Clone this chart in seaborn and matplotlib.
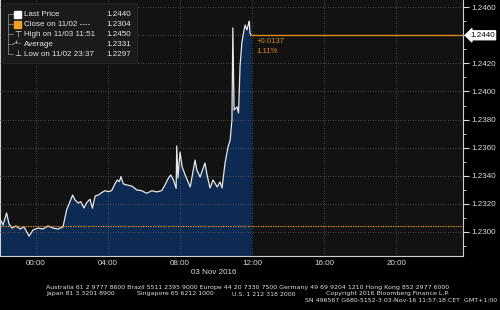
import matplotlib
matplotlib.use("Agg")
import numpy as np
import pandas as pd
import seaborn as sns
import matplotlib.pyplot as plt
import matplotlib.dates as mdates
from matplotlib.patches import Rectangle

# ---------------- data ----------------
times = [
    "2016-11-02 22:00", "2016-11-02 22:10", "2016-11-02 22:22", "2016-11-02 22:30",
    "2016-11-02 22:40", "2016-11-02 22:53", "2016-11-02 23:07", "2016-11-02 23:20",
    "2016-11-02 23:37", "2016-11-02 23:50", "2016-11-03 00:07", "2016-11-03 00:23",
    "2016-11-03 00:40", "2016-11-03 00:56", "2016-11-03 01:13", "2016-11-03 01:30",
    "2016-11-03 01:42", "2016-11-03 02:02", "2016-11-03 02:10", "2016-11-03 02:21",
    "2016-11-03 02:29", "2016-11-03 02:40", "2016-11-03 02:49", "2016-11-03 03:00",
    "2016-11-03 03:08", "2016-11-03 03:17", "2016-11-03 03:28", "2016-11-03 03:39",
    "2016-11-03 03:50", "2016-11-03 04:01", "2016-11-03 04:12", "2016-11-03 04:23",
    "2016-11-03 04:31", "2016-11-03 04:38", "2016-11-03 04:43", "2016-11-03 04:51",
    "2016-11-03 05:02", "2016-11-03 05:19", "2016-11-03 05:36", "2016-11-03 05:52",
    "2016-11-03 06:09", "2016-11-03 06:26", "2016-11-03 06:42", "2016-11-03 06:59",
    "2016-11-03 07:10", "2016-11-03 07:21", "2016-11-03 07:29", "2016-11-03 07:38",
    "2016-11-03 07:47", "2016-11-03 07:49", "2016-11-03 07:53", "2016-11-03 08:00",
    "2016-11-03 08:07", "2016-11-03 08:17", "2016-11-03 08:34", "2016-11-03 08:50",
    "2016-11-03 08:56", "2016-11-03 09:07", "2016-11-03 09:23", "2016-11-03 09:30",
    "2016-11-03 09:40", "2016-11-03 09:50", "2016-11-03 10:04", "2016-11-03 10:13",
    "2016-11-03 10:20", "2016-11-03 10:30", "2016-11-03 10:40", "2016-11-03 10:47",
    "2016-11-03 10:53", "2016-11-03 10:56", "2016-11-03 11:00", "2016-11-03 11:10",
    "2016-11-03 11:15", "2016-11-03 11:20", "2016-11-03 11:26", "2016-11-03 11:32",
    "2016-11-03 11:37", "2016-11-03 11:43", "2016-11-03 11:49", "2016-11-03 11:51",
    "2016-11-03 11:53", "2016-11-03 11:57",
]
prices = [
    1.23093, 1.23050, 1.23135, 1.23057, 1.23028, 1.23043, 1.23021, 1.23036,
    1.22970, 1.23014, 1.23028, 1.23021, 1.23043, 1.23028, 1.23021, 1.23036,
    1.23157, 1.23263, 1.23228, 1.23206, 1.23216, 1.23171, 1.23209, 1.23233,
    1.23169, 1.23256, 1.23263, 1.23280, 1.23294, 1.23287, 1.23294, 1.23342,
    1.23370, 1.23358, 1.23394, 1.23342, 1.23335, 1.23327, 1.23299, 1.23294,
    1.23275, 1.23294, 1.23285, 1.23294, 1.23335, 1.23382, 1.23406, 1.23370,
    1.23311, 1.23612, 1.23384, 1.23569, 1.23463, 1.23406, 1.23320, 1.23512,
    1.23441, 1.23391, 1.23491, 1.23406, 1.23313, 1.23370, 1.23320, 1.23356,
    1.23313, 1.23491, 1.23605, 1.23655, 1.23797, 1.24452, 1.23868, 1.23890,
    1.23847, 1.24181, 1.24345, 1.24423, 1.24473, 1.24438, 1.24488, 1.24500,
    1.24416, 1.24400,
]
y_ticks = [1.2300, 1.2320, 1.2340, 1.2360, 1.2380, 1.2400, 1.2420, 1.2440, 1.2460]
y_tick_labels = ["1.2300", "1.2320", "1.2340", "1.2360", "1.2380", "1.2400", "1.2420", "", "1.2460"]
last_price = 1.2440
close_price = 1.2304
change_text = "+0.0137"
pct_text = "1.11%"
legend_names = ["Last Price", "Close on 11/02 ----", "High on 11/03 11:51", "Average", "Low on 11/02 23:37"]
legend_values = ["1.2440", "1.2304", "1.2450", "1.2331", "1.2297"]
date_label = "03 Nov 2016"
footer = [
    "Australia 61 2 9777 8600 Brazil 5511 2395 9000 Europe 44 20 7330 7500 Germany 49 69 9204 1210 Hong Kong 852 2977 6000",
    "Japan 81 3 3201 8900",
    "Singapore 65 6212 1000",
    "U.S. 1 212 318 2000",
    "Copyright 2016 Bloomberg Finance L.P.",
    "SN 496567 G680-5152-3 03-Nov-16 11:57:18 CET  GMT+1:00",
]

df = pd.DataFrame({"time": pd.to_datetime(times), "price": prices})

# ---------------- style ----------------
sns.set_style("dark")
plt.rcParams["font.family"] = ["Liberation Sans", "DejaVu Sans"]

W, H = 500, 310
fig = plt.figure(figsize=(W / 100, H / 100), dpi=100, facecolor="black")


def px(x, y):
    return x / W, 1 - y / H


ax = fig.add_axes([0, (H - 256) / H, 463 / W, 256 / H])
ax.set_facecolor("#121212")

ymin, ymax = 1.22829, 1.24651
ax.fill_between(df["time"], df["price"], ymin - 0.001, color="#0c2a52", lw=0, zorder=2)
sns.lineplot(data=df, x="time", y="price", ax=ax, color="#e8e8e8", lw=0.9, zorder=3)

ax.set_xlim(pd.Timestamp("2016-11-02 22:00"), pd.Timestamp("2016-11-03 23:43"))
ax.set_ylim(ymin, ymax)
ax.set_xlabel("")
ax.set_ylabel("")

# close line & last price line
ax.axhline(close_price, color="#e8961e", lw=0.9, ls=(0, (1, 1)), zorder=4)
ax.plot([df["time"].iloc[-1], pd.Timestamp("2016-11-03 23:43")], [last_price, last_price],
        color="#dd8a1a", lw=1.0, zorder=4)
ax.text(pd.Timestamp("2016-11-03 12:14"), 1.24355, change_text, color="#d98a1c",
        fontsize=5.6, va="center", ha="left", zorder=5)
ax.text(pd.Timestamp("2016-11-03 12:14"), 1.24285, pct_text, color="#d98a1c",
        fontsize=5.6, va="center", ha="left", zorder=5)

# axes
ax.yaxis.tick_right()
ax.set_yticks(y_ticks)
ax.set_yticklabels(y_tick_labels)
ax.set_yticks(np.arange(1.2290, 1.2466, 0.001), minor=True)
ax.xaxis.set_major_locator(mdates.HourLocator(byhour=range(0, 24, 4)))
ax.xaxis.set_major_formatter(mdates.DateFormatter("%H:%M"))
ax.xaxis.set_minor_locator(mdates.HourLocator(byhour=range(0, 24, 2)))
ax.tick_params(axis="both", which="both", colors="#dddddd", labelsize=5.8, direction="out")
ax.tick_params(axis="y", which="major", length=4, width=0.8, pad=2)
ax.tick_params(axis="y", which="minor", length=2, width=0.6)
ax.tick_params(axis="x", which="major", length=0, pad=3)
ax.tick_params(axis="x", which="minor", length=2.5, width=0.6)
ax.grid(True, which="major", color="#5c5c5c", lw=0.6, ls=(0, (1, 2)))
ax.set_axisbelow(False)
for g in ax.get_xgridlines() + ax.get_ygridlines():
    g.set_zorder(3.5)
ax.spines["top"].set_visible(False)
for s in ["left", "right", "bottom"]:
    ax.spines[s].set_visible(True)
    ax.spines[s].set_color("#cfcfcf")
    ax.spines[s].set_linewidth(0.8)

# last price tag
ax.annotate("1.2440", xy=(1.0, last_price), xycoords=("axes fraction", "data"),
            xytext=(5, 0), textcoords="offset points", fontsize=5.8, color="black",
            va="center", ha="left", annotation_clip=False,
            bbox=dict(boxstyle="larrow,pad=0.12", fc="white", ec="white"))

# date label
fig.text(*px(214, 273), date_label, color="#dddddd", fontsize=5.8, ha="center", va="center")

# legend box
lx0, ly0 = px(3, 63)
fig.patches.append(Rectangle((lx0, ly0), 134 / W, 60 / H, transform=fig.transFigure,
                             fc="#1a1a1a", ec="#262626", lw=0.6, zorder=10))
rows_y = [14, 24, 34, 44, 54]
fig.add_artist(plt.Line2D([8 / W, 8 / W], [1 - 14 / H, 1 - 54 / H], transform=fig.transFigure,
                          color="#999999", lw=0.5, zorder=11))
for i, yy in enumerate(rows_y):
    fig.add_artist(plt.Line2D([8 / W, 13 / W], [1 - yy / H, 1 - yy / H], transform=fig.transFigure,
                              color="#999999", lw=0.5, zorder=11))
    fig.text(*px(24, yy), legend_names[i], color="#e6e6e6", fontsize=5.8,
             ha="left", va="center", zorder=12)
    fig.text(*px(131, yy), legend_values[i], color="#e6e6e6", fontsize=5.8,
             ha="right", va="center", zorder=12)
fig.patches.append(Rectangle(px(14, 18), 7 / W, 7 / H, transform=fig.transFigure,
                             fc="white", ec="white", zorder=12))
fig.patches.append(Rectangle(px(14, 28), 7 / W, 7 / H, transform=fig.transFigure,
                             fc="#f0a020", ec="#f0a020", zorder=12))
fig.text(*px(17.5, 34), "\u22a4", color="#e6e6e6", fontsize=6, ha="center", va="center",
         family=["DejaVu Sans"], zorder=12)
fig.text(*px(17.5, 44), "-+-", color="#e6e6e6", fontsize=5, ha="center", va="center", zorder=12)
fig.text(*px(17.5, 54), "\u22a5", color="#e6e6e6", fontsize=6, ha="center", va="center",
         family=["DejaVu Sans"], zorder=12)

# footer
fs = 4.5
ff = ["DejaVu Sans"]
fig.text(*px(46, 287), footer[0], color="#e0e0e0", fontsize=fs, ha="left", va="center", family=ff)
fig.text(*px(46, 294), footer[1], color="#e0e0e0", fontsize=fs, ha="left", va="center", family=ff)
fig.text(*px(137, 294), footer[2], color="#e0e0e0", fontsize=fs, ha="left", va="center", family=ff)
fig.text(*px(232, 294), footer[3], color="#e0e0e0", fontsize=fs, ha="left", va="center", family=ff)
fig.text(*px(449, 294), footer[4], color="#e0e0e0", fontsize=fs, ha="right", va="center", family=ff)
fig.text(*px(497, 301), footer[5], color="#e0e0e0", fontsize=fs, ha="right", va="center", family=ff)

fig.savefig("out.png", dpi=100, facecolor="black")
